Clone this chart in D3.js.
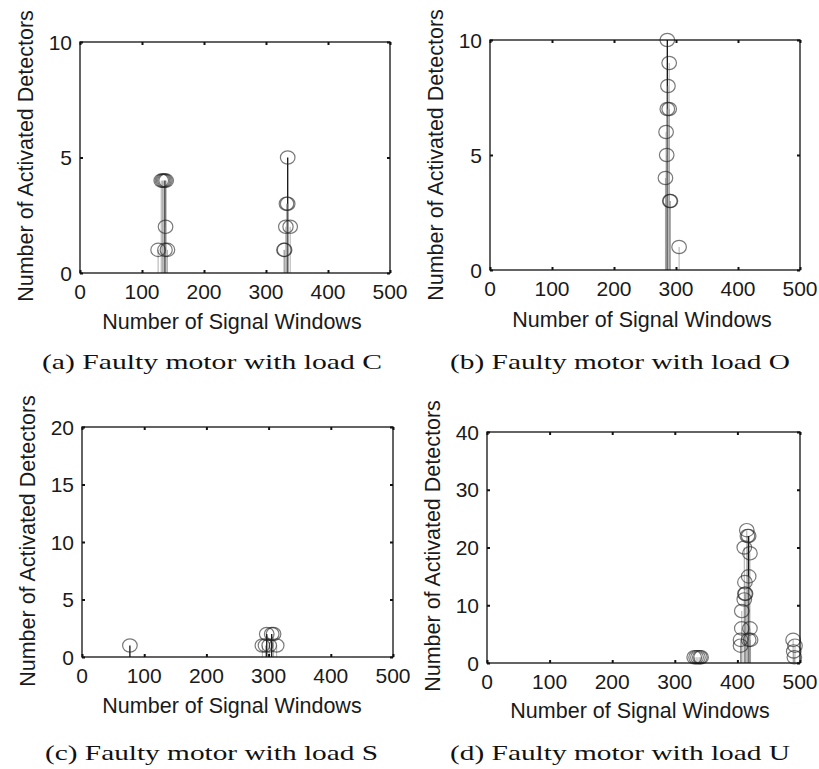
<!DOCTYPE html>
<html>
<head>
<meta charset="utf-8">
<script src="https://cdn.jsdelivr.net/npm/d3@7"></script>
<style>
  body { margin: 0; background: #fff; }
  text { font-family: "Liberation Sans", Arial, sans-serif; fill: #1a1a1a; }
  .caption { font-family: "Liberation Serif", "Times New Roman", serif; fill: #111; }
</style>
</head>
<body>
<svg id="fig" width="819" height="769"></svg>
<script>
// Shared axis ticks and labels
const xTicks = [0, 100, 200, 300, 400, 500];
const yTicksA = [0, 5, 10];
const yTicksB = [0, 5, 10];
const yTicksC = [0, 5, 10, 15, 20];
const yTicksD = [0, 10, 20, 30, 40];
const xTitle = "Number of Signal Windows";
const yTitle = "Number of Activated Detectors";
const captions = [
  "(a) Faulty motor with load C",
  "(b) Faulty motor with load O",
  "(c) Faulty motor with load S",
  "(d) Faulty motor with load U"
];

// Load C: detector activations per signal window
const aDarkX = [137, 335];
const aDarkY = [4, 5];
const aLightX = [126, 131, 133, 135, 137, 138, 139, 141, 329, 330, 332, 333, 335, 339];
const aLightY = [1, 4, 4, 4, 1, 2, 4, 1, 1, 1, 2, 3, 3, 2];

// Load O
const bDarkX = [286];
const bDarkY = [10];
const bLightX = [283, 284, 285, 286, 287, 289, 289, 290, 291, 305];
const bLightY = [4, 6, 5, 7, 8, 9, 7, 3, 3, 1];

// Load S
const cDarkX = [77, 297, 305];
const cDarkY = [1, 2, 2];
const cLightX = [290, 295, 301, 308, 313];
const cLightY = [1, 1, 1, 2, 1];

// Load U
const dDarkX = [418];
const dDarkY = [22];
const dLightX = [331, 334, 337, 340, 342,
                 415, 416, 411, 420, 418, 412, 412, 413, 411, 407, 407, 420, 405, 405, 418, 421,
                 489, 492, 490, 491];
const dLightY = [1, 1, 1, 1, 1,
                 23, 22, 20, 19, 15, 14, 12, 12, 11, 9, 6, 6, 4, 3, 4, 4,
                 4, 3, 2, 1];

const panels = [
  { frame: { l: 80, r: 390, t: 42, b: 273 }, yMax: 10, yTicks: yTicksA,
    dark: [aDarkX, aDarkY], light: [aLightX, aLightY],
    yTitlePos: [33, 156], xTitlePos: [232, 329], cap: { x: 42, w: 340, y: 369 } },
  { frame: { l: 490, r: 800, t: 40, b: 270 }, yMax: 10, yTicks: yTicksB,
    dark: [bDarkX, bDarkY], light: [bLightX, bLightY],
    yTitlePos: [443, 155], xTitlePos: [642, 327], cap: { x: 450, w: 340, y: 369 } },
  { frame: { l: 82, r: 393, t: 427, b: 657 }, yMax: 20, yTicks: yTicksC,
    dark: [cDarkX, cDarkY], light: [cLightX, cLightY],
    yTitlePos: [35, 541], xTitlePos: [232, 713], cap: { x: 45, w: 333, y: 760 } },
  { frame: { l: 487, r: 800, t: 432, b: 663 }, yMax: 40, yTicks: yTicksD,
    dark: [dDarkX, dDarkY], light: [dLightX, dLightY],
    yTitlePos: [440, 546], xTitlePos: [640, 718], cap: { x: 450, w: 340, y: 760 } }
];

const svg = d3.select("#fig");

panels.forEach((p, i) => {
  const f = p.frame;
  const x = d3.scaleLinear().domain([0, 500]).range([f.l, f.r]);
  const y = d3.scaleLinear().domain([0, p.yMax]).range([f.b, f.t]);
  const g = svg.append("g");

  // Stem series: dark run first, light run drawn over it
  const drawSeries = (xs, ys, stemColor, stemWidth, stemOpacity) => {
    const pts = xs.map((v, k) => ({ x: v, y: ys[k] }));
    g.append("g").selectAll("line").data(pts).join("line")
      .attr("x1", d => x(d.x)).attr("x2", d => x(d.x))
      .attr("y1", y(0)).attr("y2", d => y(d.y))
      .attr("stroke", stemColor).attr("stroke-width", stemWidth)
      .attr("stroke-opacity", stemOpacity);
    g.append("g").selectAll("ellipse").data(pts).join("ellipse")
      .attr("cx", d => x(d.x)).attr("cy", d => y(d.y))
      .attr("rx", 7.3).attr("ry", 6.7)
      .attr("fill", "none").attr("stroke", "#222")
      .attr("stroke-opacity", 0.6).attr("stroke-width", 1.2);
  };
  drawSeries(p.dark[0], p.dark[1], "#111", 1.3, 1);
  drawSeries(p.light[0], p.light[1], "#8a8a8a", 1, 0.7);

  // Axes box with inward ticks on all four sides
  g.append("rect")
    .attr("x", f.l).attr("y", f.t).attr("width", f.r - f.l).attr("height", f.b - f.t)
    .attr("fill", "none").attr("stroke", "#111").attr("stroke-width", 1.3);

  const tl = 3;
  const bottom = d3.axisBottom(x).tickValues(xTicks).tickSizeInner(-tl).tickSizeOuter(0).tickFormat("");
  const top = d3.axisTop(x).tickValues(xTicks).tickSizeInner(-tl).tickSizeOuter(0).tickFormat("");
  const left = d3.axisLeft(y).tickValues(p.yTicks).tickSizeInner(-tl).tickSizeOuter(0).tickFormat("");
  const right = d3.axisRight(y).tickValues(p.yTicks).tickSizeInner(-tl).tickSizeOuter(0).tickFormat("");
  [[bottom, `translate(0,${f.b})`], [top, `translate(0,${f.t})`],
   [left, `translate(${f.l},0)`], [right, `translate(${f.r},0)`]].forEach(([ax, tr]) => {
    const a = g.append("g").attr("transform", tr).call(ax);
    a.select(".domain").remove();
    a.selectAll(".tick line").attr("stroke", "#111").attr("stroke-width", 2);
  });

  // Tick labels
  g.append("g").selectAll("text").data(xTicks).join("text")
    .attr("x", d => x(d)).attr("y", f.b + 26)
    .attr("text-anchor", "middle").attr("font-size", 21)
    .text(d => d);
  g.append("g").selectAll("text").data(p.yTicks).join("text")
    .attr("x", f.l - 8).attr("y", d => y(d)).attr("dy", "0.36em")
    .attr("text-anchor", "end").attr("font-size", 21)
    .text(d => d);

  // Axis titles
  g.append("text")
    .attr("x", p.xTitlePos[0]).attr("y", p.xTitlePos[1])
    .attr("text-anchor", "middle").attr("font-size", 21.5)
    .text(xTitle);
  g.append("text")
    .attr("transform", `translate(${p.yTitlePos[0]},${p.yTitlePos[1]}) rotate(-90)`)
    .attr("text-anchor", "middle").attr("font-size", 21.5)
    .text(yTitle);

  // Sub-figure caption
  g.append("text").attr("class", "caption")
    .attr("x", p.cap.x).attr("y", p.cap.y)
    .attr("font-size", 21.5)
    .attr("textLength", p.cap.w).attr("lengthAdjust", "spacingAndGlyphs")
    .text(captions[i]);
});
</script>
</body>
</html>
